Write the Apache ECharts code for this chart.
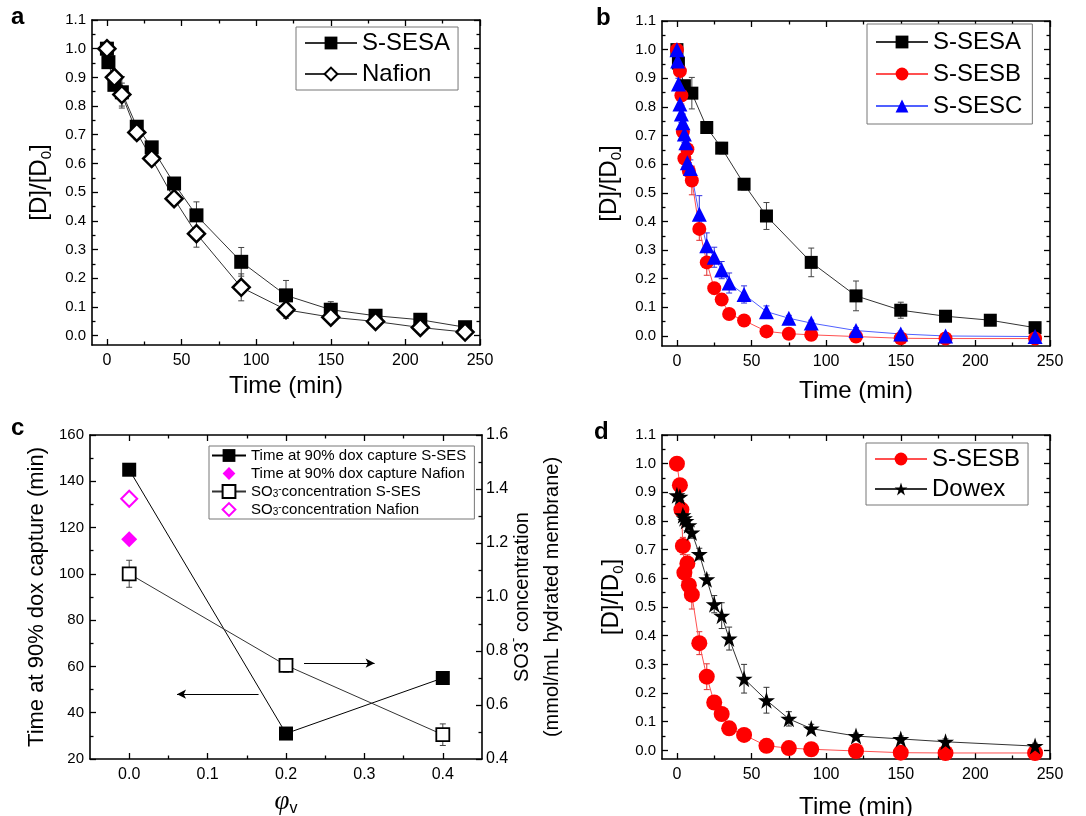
<!DOCTYPE html>
<html><head><meta charset="utf-8">
<script src="https://cdn.jsdelivr.net/npm/echarts@6/dist/echarts.min.js"></script>
<style>html,body{margin:0;padding:0;background:#fff}#c{width:1086px;height:816px}</style>
</head><body><div id="c"></div>
<script>
// ---------------- data ----------------
const timeSESA = [0,1,5,10,20,30,45,60,90,120,150,180,210,240];
const valSESA  = [1.0,0.953,0.874,0.848,0.728,0.656,0.53,0.419,0.257,0.14,0.09,0.069,0.055,0.029];
const errSESA  = [0.01,0.01,0.015,0.055,0.02,0.02,0.02,0.047,0.05,0.052,0.028,0.01,0.01,0.01];

const timeNafion = [0,5,10,20,30,45,60,90,120,150,180,210,240];
const valNafion  = [1.0,0.9,0.84,0.708,0.617,0.477,0.355,0.168,0.09,0.064,0.049,0.028,0.012];
const errNafion  = [0.01,0.015,0.04,0.025,0.02,0.02,0.047,0.047,0.03,0.015,0.01,0.01,0.015];

const timeSESB = [0,2,3,4,5,7,8,10,15,20,25,30,35,45,60,75,90,120,150,180,240];
const valSESB  = [1.0,0.925,0.84,0.713,0.62,0.652,0.576,0.543,0.374,0.257,0.167,0.127,0.077,0.054,0.016,0.008,0.004,-0.002,-0.008,-0.009,-0.009];
const errSESB  = [0.01,0.02,0.03,0.03,0.03,0.03,0.03,0.05,0.04,0.045,0.02,0.02,0.01,0.01,0.01,0.01,0.01,0.01,0.01,0.01,0.01];

const timeSESC = [0,0.5,1,2,3,4,5,6,7,9,15,20,25,30,35,45,60,75,90,120,150,180,240];
const valSESC  = [1.0,0.96,0.88,0.81,0.775,0.745,0.705,0.675,0.605,0.585,0.425,0.315,0.275,0.23,0.185,0.145,0.085,0.062,0.045,0.019,0.007,0.0,-0.002];
const errSESC  = [0.01,0.02,0.02,0.02,0.03,0.03,0.03,0.03,0.03,0.03,0.065,0.045,0.035,0.03,0.035,0.03,0.02,0.01,0.01,0.01,0.01,0.01,0.01];

const timeDowex = [0,2,4,5,6,8,10,15,20,25,30,35,45,60,75,90,120,150,180,240];
const valDowex  = [0.89,0.885,0.82,0.81,0.8,0.785,0.76,0.685,0.597,0.51,0.47,0.39,0.25,0.175,0.11,0.076,0.05,0.04,0.03,0.015];
const errDowex  = [0.02,0.02,0.02,0.02,0.02,0.02,0.02,0.02,0.015,0.03,0.045,0.04,0.05,0.045,0.025,0.015,0.01,0.01,0.01,0.01];

// panel c
const phiSES      = [0, 0.2, 0.4];
const time90SES   = [145, 31, 55];
const phiNafion   = [0];
const time90Nafion= [115];
const so3SES      = [1.086, 0.747, 0.49];
const so3SESErr   = [0.05, 0.025, 0.04];
const so3Nafion   = [1.364];
// annotation arrows in panel c: [x0, x1, y]
const arrowLeftAxis  = [0.165, 0.061, 48];
const arrowRightAxis = [0.223, 0.313, 0.755];

// tick labels
const timeTicks  = [0,50,100,150,200,250];
const timeMinor  = [25,75,125,175,225];
const ratioTicks = [0,0.1,0.2,0.3,0.4,0.5,0.6,0.7,0.8,0.9,1.0,1.1];
const ratioMinor = [0.05,0.15,0.25,0.35,0.45,0.55,0.65,0.75,0.85,0.95,1.05];
const phiTicks   = [0,0.1,0.2,0.3,0.4];
const phiMinor   = [0.05,0.15,0.25,0.35];
const capTicks   = [20,40,60,80,100,120,140,160];
const capMinor   = [30,50,70,90,110,130,150];
const so3Ticks   = [0.4,0.6,0.8,1.0,1.2,1.4,1.6];
const so3Minor   = [0.5,0.7,0.9,1.1,1.3,1.5];

// ---------------- helpers ----------------
const FONT = "'Liberation Sans', Arial, Helvetica, sans-serif";
const xAxes = [], yAxes = [];
function mkAxis(grid, min, max, pos, ticks, len, line, extra) {
  return Object.assign({
    gridIndex: grid, type: 'value', min: min, max: max, position: pos,
    axisLine: {show: line, onZero: false, lineStyle: {color: '#000', width: 1.6}},
    axisTick: {show: true, inside: true, length: len, customValues: ticks, lineStyle: {color: '#000', width: 1.3}},
    axisLabel: {show: false},
    splitLine: {show: false},
    axisPointer: {show: false}
  }, extra || {});
}
function lbl(vals, fmt, size, margin) {
  return {show: true, customValues: vals, formatter: fmt, color: '#000', fontSize: size, fontFamily: FONT, margin: margin};
}
const f1 = v => v.toFixed(1);
const f0 = v => String(v);
const ratioName = '{n|[D]/[D}{s|0}{n|]}';
const ratioNameStyle = {color: '#000', fontFamily: FONT, fontSize: 24,
  rich: {n: {fontSize: 24, fontFamily: FONT, color: '#000', lineHeight: 30},
         s: {fontSize: 15, fontFamily: FONT, color: '#000', lineHeight: 10, verticalAlign: 'bottom'}}};
const timeNameStyle = {color: '#000', fontFamily: FONT, fontSize: 24};

function panel(g, xr, xt, xm, xf, yr, yt, ym, yf, opt) {
  const xi = xAxes.length;
  xAxes.push(mkAxis(g, xr[0], xr[1], 'bottom', xt, 6, true, Object.assign({axisLabel: lbl(xt, xf, 16, 8)}, opt.xName)));
  xAxes.push(mkAxis(g, xr[0], xr[1], 'bottom', xm, 3.5, false));
  xAxes.push(mkAxis(g, xr[0], xr[1], 'top', xt, 6, true));
  xAxes.push(mkAxis(g, xr[0], xr[1], 'top', xm, 3.5, false));
  const yi = yAxes.length;
  yAxes.push(mkAxis(g, yr[0], yr[1], 'left', yt, 6, true, Object.assign({axisLabel: lbl(yt, yf, 15, 6)}, opt.yName)));
  yAxes.push(mkAxis(g, yr[0], yr[1], 'left', ym, 3.5, false));
  let y2 = yAxes.length;
  if (opt.right) {
    const r = opt.right;
    yAxes.push(mkAxis(g, r.range[0], r.range[1], 'right', r.ticks, 6, true, Object.assign({axisLabel: lbl(r.ticks, r.fmt, 16, 4)}, r.name)));
    yAxes.push(mkAxis(g, r.range[0], r.range[1], 'right', r.minor, 3.5, false));
  } else {
    yAxes.push(mkAxis(g, yr[0], yr[1], 'right', yt, 6, true));
    yAxes.push(mkAxis(g, yr[0], yr[1], 'right', ym, 3.5, false));
  }
  return {x: xi, y: yi, y2: y2};
}
const zip = (a, b) => a.map((v, i) => [v, b[i]]);
function errSeries(ax, yIdx, t, v, e, color, capW) {
  return {
    type: 'custom', xAxisIndex: ax.x, yAxisIndex: yIdx, silent: true, z: 2, clip: false,
    data: t.map((x, i) => [x, v[i], e[i]]),
    encode: {x: 0, y: 1},
    renderItem: function (params, api) {
      const x = api.value(0), y = api.value(1), d = api.value(2);
      const top = api.coord([x, y + d]), bot = api.coord([x, y - d]);
      const hw = capW / 2, st = {stroke: color, lineWidth: 1};
      return {type: 'group', children: [
        {type: 'line', shape: {x1: top[0], y1: top[1], x2: bot[0], y2: bot[1]}, style: st},
        {type: 'line', shape: {x1: top[0] - hw, y1: top[1], x2: top[0] + hw, y2: top[1]}, style: st},
        {type: 'line', shape: {x1: bot[0] - hw, y1: bot[1], x2: bot[0] + hw, y2: bot[1]}, style: st}
      ]};
    }
  };
}
function lineSeries(name, ax, yIdx, t, v, sym, size, fill, border, bw, lineColor, extra) {
  return Object.assign({
    type: 'line', name: name, xAxisIndex: ax.x, yAxisIndex: yIdx, data: zip(t, v),
    symbol: sym, symbolSize: size, showSymbol: true, showAllSymbol: true, z: 3,
    itemStyle: {color: fill, borderColor: border, borderWidth: bw},
    lineStyle: {color: lineColor, width: 1}
  }, extra || {});
}

const STAR = 'path://M50 0 L61.8 35.1 L99 35.1 L68.9 56.7 L80.2 91.9 L50 70.1 L19.8 91.9 L31.1 56.7 L1 35.1 L38.2 35.1 Z';
const timeRange = [-10, 250];

// ---------------- axes ----------------
const A = panel(0, timeRange, timeTicks, timeMinor, f0, [-0.033, 1.1], ratioTicks, ratioMinor, f1, {
  xName: {name: 'Time (min)', nameLocation: 'middle', nameGap: 29, nameTextStyle: timeNameStyle},
  yName: {name: ratioName, nameLocation: 'middle', nameGap: 38, nameRotate: 90, nameTextStyle: ratioNameStyle}
});
const B = panel(1, timeRange, timeTicks, timeMinor, f0, [-0.035, 1.1], ratioTicks, ratioMinor, f1, {
  xName: {name: 'Time (min)', nameLocation: 'middle', nameGap: 33, nameTextStyle: timeNameStyle},
  yName: {name: ratioName, nameLocation: 'middle', nameGap: 38, nameRotate: 90, nameTextStyle: ratioNameStyle}
});
const C = panel(2, [-0.05, 0.45], phiTicks, phiMinor, f1, [20, 160], capTicks, capMinor, f0, {
  xName: {name: '{i|φ}{s|v}', nameLocation: 'middle', nameGap: 28, nameTextStyle: {color: '#000',
    rich: {i: {fontFamily: "'Liberation Serif', 'Times New Roman', serif", fontStyle: 'italic', fontSize: 27, color: '#000', lineHeight: 30},
           s: {fontFamily: FONT, fontSize: 16, color: '#000', lineHeight: 10, verticalAlign: 'bottom'}}}},
  yName: {name: 'Time at 90% dox capture (min)', nameLocation: 'middle', nameGap: 42, nameRotate: 90,
    nameTextStyle: {color: '#000', fontFamily: FONT, fontSize: 22}},
  right: {range: [0.4, 1.6], ticks: so3Ticks, minor: so3Minor, fmt: f1,
    name: {name: '{n|SO3}{p|-}{n| concentration}\n{n|(mmol/mL hydrated membrane)}', nameLocation: 'middle', nameGap: 25, nameRotate: 90,
      nameMoveOverlap: false,
      nameTextStyle: {color: '#000', fontFamily: FONT, fontSize: 20,
        rich: {n: {fontFamily: FONT, fontSize: 20, color: '#000', lineHeight: 30},
               p: {fontFamily: FONT, fontSize: 13, color: '#000', lineHeight: 12, verticalAlign: 'top'}}}}}
});
const D = panel(3, timeRange, timeTicks, timeMinor, f0, [-0.03, 1.1], ratioTicks, ratioMinor, f1, {
  xName: {name: 'Time (min)', nameLocation: 'middle', nameGap: 36, nameTextStyle: timeNameStyle},
  yName: {name: ratioName, nameLocation: 'middle', nameGap: 36, nameRotate: 90, nameTextStyle: ratioNameStyle}
});

// ---------------- series ----------------
const hiddenLine = {lineStyle: {opacity: 0, width: 0}};
const series = [
  // panel a
  errSeries(A, A.y, timeSESA, valSESA, errSESA, '#444', 6),
  lineSeries('S-SESA', A, A.y, timeSESA, valSESA, 'rect', 14, '#000', '#000', 0, '#333'),
  errSeries(A, A.y, timeNafion, valNafion, errNafion, '#444', 6),
  lineSeries('Nafion', A, A.y, timeNafion, valNafion, 'diamond', [17, 17], '#fff', '#000', 2.5, '#333'),
  // panel b
  errSeries(B, B.y, timeSESA, valSESA, errSESA, '#444', 6),
  lineSeries('S-SESA', B, B.y, timeSESA, valSESA, 'rect', 13, '#000', '#000', 0, '#333'),
  errSeries(B, B.y, timeSESB, valSESB, errSESB, '#e03030', 6),
  lineSeries('S-SESB', B, B.y, timeSESB, valSESB, 'circle', 14, '#ff0000', '#ff0000', 0, '#ff5050'),
  errSeries(B, B.y, timeSESC, valSESC, errSESC, '#3030e0', 6),
  lineSeries('S-SESC', B, B.y, timeSESC, valSESC, 'triangle', 15, '#0000ff', '#0000ff', 0, '#5060ff'),
  // panel c
  lineSeries('Time at 90% dox capture S-SES', C, C.y, phiSES, time90SES, 'rect', 14, '#000', '#000', 0, '#000', {
    markLine: {silent: true, symbol: ['none', 'arrow'], symbolSize: [7, 9], label: {show: false},
      lineStyle: {color: '#000', width: 1, type: 'solid'},
      data: [[{coord: [arrowLeftAxis[0], arrowLeftAxis[2]]}, {coord: [arrowLeftAxis[1], arrowLeftAxis[2]]}]]}}),
  lineSeries('Time at 90% dox capture Nafion', C, C.y, phiNafion, time90Nafion, 'diamond', 16, '#ff00ff', '#ff00ff', 0, '#ff00ff', hiddenLine),
  errSeries(C, C.y2, phiSES, so3SES, so3SESErr, '#444', 6),
  lineSeries('SO3 concentration S-SES', C, C.y2, phiSES, so3SES, 'rect', 13, '#fff', '#000', 1.8, '#333', {
    markLine: {silent: true, symbol: ['none', 'arrow'], symbolSize: [7, 9], label: {show: false},
      lineStyle: {color: '#000', width: 1, type: 'solid'},
      data: [[{coord: [arrowRightAxis[0], arrowRightAxis[2]]}, {coord: [arrowRightAxis[1], arrowRightAxis[2]]}]]}}),
  lineSeries('SO3 concentration Nafion', C, C.y2, phiNafion, so3Nafion, 'diamond', 16, '#fff', '#ff00ff', 2, '#ff00ff', hiddenLine),
  // panel d
  errSeries(D, D.y, timeSESB, valSESB, errSESB, '#e03030', 6),
  lineSeries('S-SESB', D, D.y, timeSESB, valSESB, 'circle', 16, '#ff0000', '#ff0000', 0, '#ff5050'),
  errSeries(D, D.y, timeDowex, valDowex, errDowex, '#333', 6),
  lineSeries('Dowex', D, D.y, timeDowex, valDowex, STAR, 17, '#000', '#000', 0, '#333')
];

// ---------------- legends / titles ----------------
const legBase = {orient: 'vertical', backgroundColor: '#fff', borderColor: '#777', borderWidth: 1,
  itemWidth: 52, itemHeight: 16, selectedMode: false,
  textStyle: {color: '#000', fontFamily: FONT, fontSize: 24}};
const legends = [
  Object.assign({}, legBase, {left: 296, top: 27, padding: [4, 8, 4, 8], itemGap: 7, data: ['S-SESA', 'Nafion']}),
  Object.assign({}, legBase, {left: 867, top: 24, padding: [6, 10, 6, 8], itemGap: 8, data: ['S-SESA', 'S-SESB', 'S-SESC']}),
  Object.assign({}, legBase, {left: 866, top: 443, padding: [4, 8, 4, 8], itemGap: 6, data: ['S-SESB', 'Dowex']}),
  Object.assign({}, legBase, {left: 209, top: 446, padding: [2, 8, 2, 2], itemGap: 3, itemWidth: 34, itemHeight: 16,
    textStyle: {color: '#000', fontFamily: FONT, fontSize: 15,
      rich: {s: {fontSize: 10, fontFamily: FONT, color: '#000', lineHeight: 8, verticalAlign: 'bottom'},
             p: {fontSize: 10, fontFamily: FONT, color: '#000', lineHeight: 8, verticalAlign: 'top'}}},
    formatter: function (n) { return n.indexOf('SO3 ') === 0 ? 'SO{s|3}{p|-}' + n.slice(4) : n; },
    data: ['Time at 90% dox capture S-SES', 'Time at 90% dox capture Nafion', 'SO3 concentration S-SES', 'SO3 concentration Nafion']})
];
const tStyle = {color: '#000', fontFamily: FONT, fontSize: 24, fontWeight: 'bold'};
const titles = [
  {text: 'a', left: 11, top: 5, padding: 0, textStyle: tStyle},
  {text: 'b', left: 596, top: 6, padding: 0, textStyle: tStyle},
  {text: 'c', left: 11, top: 416, padding: 0, textStyle: tStyle},
  {text: 'd', left: 594, top: 420, padding: 0, textStyle: tStyle}
];

const chart = echarts.init(document.getElementById('c'), null, {renderer: 'canvas'});
chart.setOption({
  animation: false,
  backgroundColor: '#fff',
  title: titles,
  legend: legends,
  grid: [
    {left: 92, top: 20, width: 388, height: 325, containLabel: false, outerBoundsMode: 'none'},
    {left: 662, top: 21, width: 388, height: 325, containLabel: false, outerBoundsMode: 'none'},
    {left: 90, top: 435, width: 392, height: 324, containLabel: false, outerBoundsMode: 'none'},
    {left: 662, top: 435, width: 388, height: 324, containLabel: false, outerBoundsMode: 'none'}
  ],
  xAxis: xAxes,
  yAxis: yAxes,
  series: series
});
</script>
</body></html>
